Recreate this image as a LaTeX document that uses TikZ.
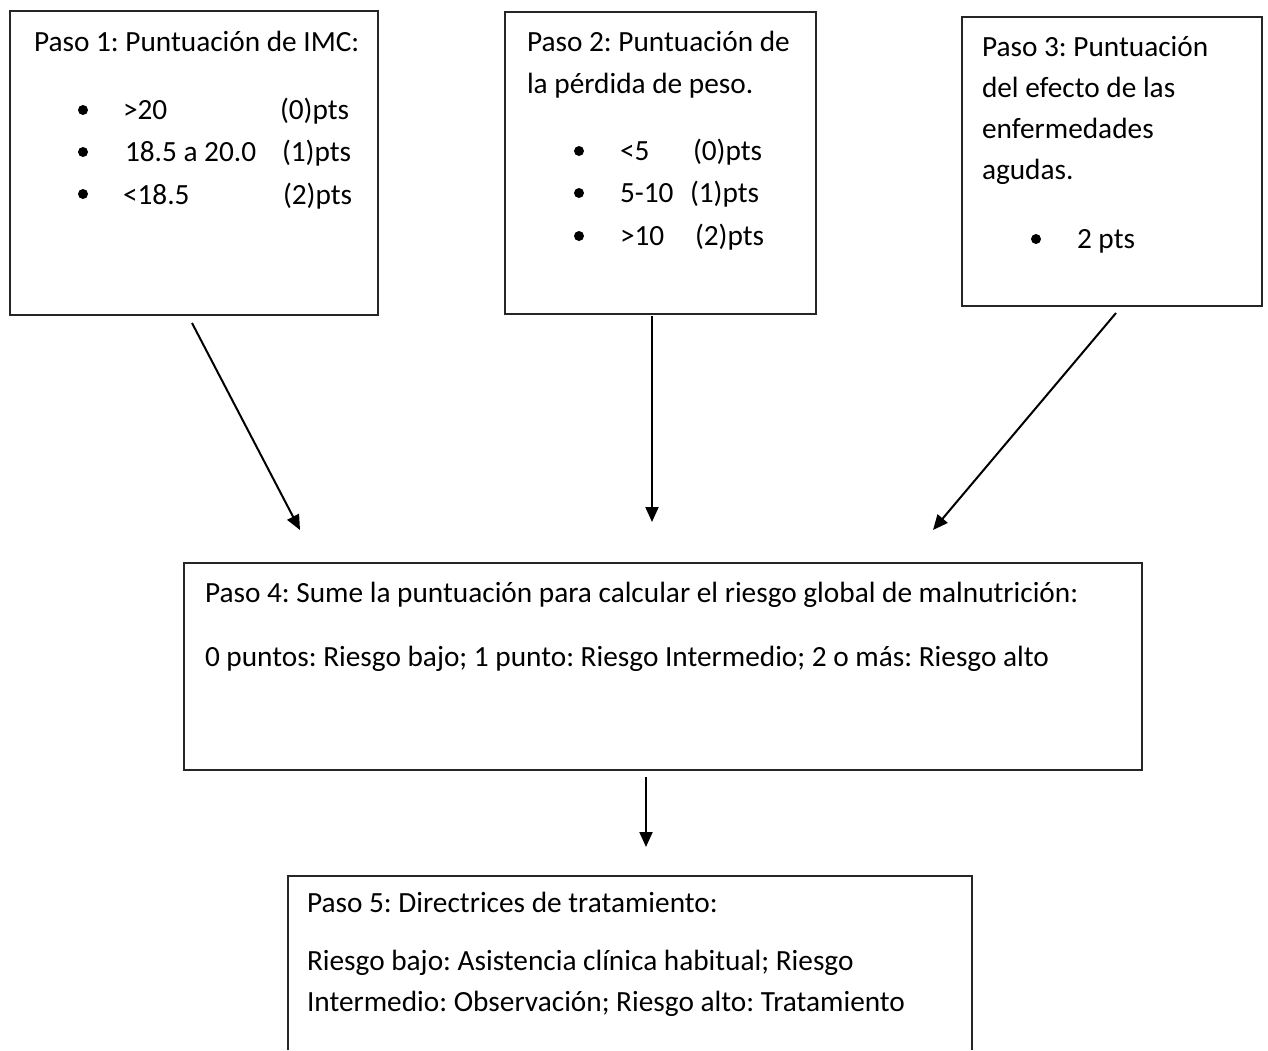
\documentclass[tikz,border=0pt]{standalone}
\usepackage{fontspec}
\setmainfont{Carlito}
\usetikzlibrary{arrows.meta}
\frenchspacing
\begin{document}
\begin{tikzpicture}[x=1pt,y=-1pt,
  box/.style={draw=black!85, line width=1.3pt, rectangle, inner sep=0pt, outer sep=0pt, anchor=north west},
  txt/.style={anchor=base west, inner sep=0pt, outer sep=0pt, font=\fontsize{29.3}{35}\selectfont\frenchspacing, text=black},
  bul/.style={circle, fill=black, inner sep=0pt, minimum size=10pt},
  conn/.style={line width=2pt, -{Triangle[length=15pt,width=13pt]}}
]
\useasboundingbox[fill=white] (0,0) rectangle (1268,1050);

% boxes
\node[box, minimum width=368pt, minimum height=304pt] (b1) at (10,11) {};
\node[box, minimum width=311pt, minimum height=302pt] (b2) at (505,12) {};
\node[box, minimum width=300pt, minimum height=289pt] (b3) at (962,17) {};
\node[box, minimum width=958pt, minimum height=207pt] (b4) at (184,563) {};
\node[anchor=north west, inner sep=0pt, outer sep=0pt, minimum width=684pt, minimum height=174pt] (b5) at (288,876) {};
\draw[draw=black!85, line width=1.3pt] (b5.south west) -- (b5.north west) -- (b5.north east) -- (b5.south east);

% box 1
\node[txt] (t1a) at (34,51) {Paso 1: Puntuación de IMC:};
\node[bul] (d1a) at (83,110) {};
\node[bul] (d1b) at (83,152) {};
\node[bul] (d1c) at (83,194) {};
\node[txt] (t1b) at (123,119) {>20};
\node[txt] (p1b) at (280,119) {(0)pts};
\node[txt] (t1c) at (125,161) {18.5 a 20.0};
\node[txt] (p1c) at (282,161) {(1)pts};
\node[txt] (t1d) at (123,204) {<18.5};
\node[txt] (p1d) at (283,204) {(2)pts};

% box 2
\node[txt] (t2a) at (527,51) {Paso 2: Puntuación de};
\node[txt] (t2b) at (527,93) {la pérdida de peso.};
\node[bul] (d2a) at (579,151) {};
\node[bul] (d2b) at (579,193) {};
\node[bul] (d2c) at (579,236) {};
\node[txt] (t2c) at (620,160) {<5};
\node[txt] (p2c) at (693,160) {(0)pts};
\node[txt] (t2d) at (620,202) {5-10};
\node[txt] (p2d) at (690,202) {(1)pts};
\node[txt] (t2e) at (620,245) {>10};
\node[txt] (p2e) at (695,245) {(2)pts};

% box 3
\node[txt] (t3a) at (982,56) {Paso 3: Puntuación};
\node[txt] (t3b) at (982,97) {del efecto de las};
\node[txt] (t3c) at (982,138) {enfermedades};
\node[txt] (t3d) at (982,179) {agudas.};
\node[bul] (d3a) at (1036,239) {};
\node[txt] (t3e) at (1077,248) {2 pts};

% box 4
\node[txt] (t4a) at (205,602) {Paso 4: Sume la puntuación para calcular el riesgo global de malnutrición:};
\node[txt] (t4b) at (205,666) {0 puntos: Riesgo bajo; 1 punto: Riesgo Intermedio; 2 o más: Riesgo alto};

% box 5
\node[txt] (t5a) at (307,912) {Paso 5: Directrices de tratamiento:};
\node[txt] (t5b) at (307,970) {Riesgo bajo: Asistencia clínica habitual; Riesgo};
\node[txt] (t5c) at (307,1011) {Intermedio: Observación; Riesgo alto: Tratamiento};

% connectors
\coordinate (a1s) at (192,323);
\coordinate (a1e) at (300,530);
\coordinate (a2s) at (652,316);
\coordinate (a2e) at (652,522);
\coordinate (a3s) at (1116,313);
\coordinate (a3e) at (933,530);
\coordinate (a4s) at (646,777);
\coordinate (a4e) at (646,847);
\draw[conn] (a1s) -- (a1e);
\draw[conn] (a2s) -- (a2e);
\draw[conn] (a3s) -- (a3e);
\draw[conn] (a4s) -- (a4e);
\end{tikzpicture}
\end{document}
